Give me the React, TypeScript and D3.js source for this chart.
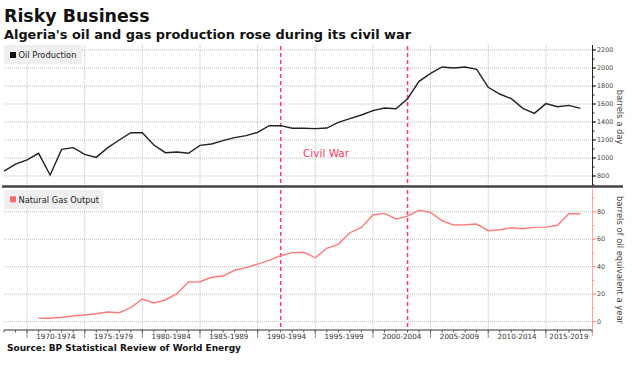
import React from "react";
import * as d3 from "d3";

const oilYears = d3.range(1967, 2018);
const oilValues = [
  855, 933, 978, 1052, 811, 1096, 1115, 1041, 1007, 1115,
  1200, 1281, 1281, 1144, 1059, 1067, 1052, 1141, 1156, 1193,
  1226, 1248, 1285, 1359, 1359, 1330, 1330, 1326, 1333, 1396,
  1437, 1478, 1526, 1556, 1548, 1659, 1852, 1941, 2011, 2000,
  2011, 1985, 1785, 1711, 1659, 1552, 1496, 1604, 1570, 1585,
  1552,
];
const gasYears = d3.range(1970, 2018);
const gasValues = [
  2.5, 2.5, 3.2, 4.1, 4.9, 5.8, 7.0, 6.5, 10.2, 16.5,
  13.6, 15.8, 20.4, 28.9, 29.1, 32.3, 33.2, 37.4, 39.3, 41.9,
  44.6, 48.0, 50.2, 50.5, 46.5, 53.4, 56.3, 64.7, 68.6, 77.6,
  78.8, 74.7, 76.8, 81.0, 79.5, 73.4, 70.3, 70.5, 71.0, 66.2,
  66.9, 68.3, 67.6, 68.6, 68.8, 70.1, 78.5, 78.5,
];
const oilTicks = [800, 1000, 1200, 1400, 1600, 1800, 2000, 2200];
const gasTicks = [0, 20, 40, 60, 80];
const bandStarts = [1970, 1975, 1980, 1985, 1990, 1995, 2000, 2005, 2010, 2015];
const warYears = [1992, 2003];

const W = 638;
const H = 366;

export default function App() {
  const x = d3.scaleLinear().domain([1968, 2019]).range([4, 592]);
  const yOil = d3.scaleLinear().domain([800, 2200]).range([176, 50]);
  const yGas = d3.scaleLinear().domain([0, 80]).range([321.7, 211.7]);

  const top = { y0: 45, y1: 186 };
  const bot = { y0: 188.5, y1: 330 };

  const oilLine = d3
    .line<number>()
    .x((_, i) => x(oilYears[i] + 1))
    .y((d) => yOil(d));
  const gasLine = d3
    .line<number>()
    .x((_, i) => x(gasYears[i] + 1))
    .y((d) => yGas(d));

  const font = "DejaVu Sans, Verdana, sans-serif";
  const grid = "#bdbdbd";
  const warColor = "#ff3a62";

  const oilMinor = d3.range(700, 2201, 100);
  const gasMinor = d3.range(-0, 91, 10);
  const yearTicks = d3.range(1968, 2020);

  return (
    <svg
      width={W}
      height={H}
      style={{ position: "absolute", left: 0, top: 0, background: "#fff" }}
      fontFamily={font}
    >
      <text x={4} y={22} fontSize={17.4} fontWeight="bold" fill="#111">
        Risky Business
      </text>
      <text x={4} y={38.5} fontSize={12.9} fontWeight="bold" fill="#111">
        Algeria's oil and gas production rose during its civil war
      </text>

      {/* horizontal gridlines */}
      {oilTicks.map((v) => (
        <line
          key={"og" + v}
          x1={4}
          x2={592}
          y1={yOil(v)}
          y2={yOil(v)}
          stroke={grid}
          strokeDasharray="1,1"
        />
      ))}
      {gasTicks.map((v) => (
        <line
          key={"gg" + v}
          x1={4}
          x2={592}
          y1={yGas(v)}
          y2={yGas(v)}
          stroke={grid}
          strokeDasharray="1,1"
        />
      ))}
      {/* vertical gridlines */}
      {bandStarts.map((t) => (
        <g key={"vg" + t}>
          <line
            x1={x(t)}
            x2={x(t)}
            y1={top.y0}
            y2={top.y1}
            stroke={grid}
            strokeDasharray="1,1"
          />
          <line
            x1={x(t)}
            x2={x(t)}
            y1={bot.y0}
            y2={bot.y1}
            stroke={grid}
            strokeDasharray="1,1"
          />
          <line x1={x(t)} x2={x(t)} y1={bot.y1} y2={338} stroke="#888" />
        </g>
      ))}

      {/* legends */}
      <rect x={4} y={45} width={78} height={19} fill="#efefef" />
      <rect x={10} y={52} width={6} height={6} fill="#111" />
      <text x={18.5} y={58.3} fontSize={8.3} fill="#222">
        Oil Production
      </text>
      <rect x={4} y={190} width={99} height={19} fill="#efefef" />
      <rect x={10} y={196.3} width={6} height={6} fill="#ff6a6a" />
      <text x={18.5} y={202.6} fontSize={8.3} fill="#222">
        Natural Gas Output
      </text>

      {/* war lines */}
      {warYears.map((t) => (
        <g key={"w" + t}>
          <line
            x1={x(t)}
            x2={x(t)}
            y1={46}
            y2={184}
            stroke={warColor}
            strokeWidth={1.5}
            strokeDasharray="4,3"
          />
          <line
            x1={x(t)}
            x2={x(t)}
            y1={190}
            y2={328}
            stroke={warColor}
            strokeWidth={1.5}
            strokeDasharray="4,3"
          />
        </g>
      ))}
      <text x={303} y={157} fontSize={10.5} fill={warColor}>
        Civil War
      </text>

      {/* data lines */}
      <path d={oilLine(oilValues) || ""} fill="none" stroke="#222" strokeWidth={1.4} />
      <path d={gasLine(gasValues) || ""} fill="none" stroke="#ff7b7b" strokeWidth={1.4} />

      {/* separator */}
      <line x1={2} x2={623} y1={186.5} y2={186.5} stroke="#444" strokeWidth={2.6} />

      {/* right axis top */}
      <line x1={592.5} x2={592.5} y1={45} y2={185} stroke="#222" />
      {oilMinor.map((v) => (
        <line key={"om" + v} x1={592.5} x2={594.5} y1={yOil(v)} y2={yOil(v)} stroke="#222" />
      ))}
      {oilTicks.map((v) => (
        <g key={"ot" + v}>
          <line x1={592.5} x2={596} y1={yOil(v)} y2={yOil(v)} stroke="#222" />
          <text x={597} y={yOil(v)} dy="0.35em" fontSize={6.4} fill="#444">
            {v}
          </text>
        </g>
      ))}
      <text
        transform={`translate(620,117) rotate(90)`}
        textAnchor="middle"
        dominantBaseline="central"
        fontSize={8.4}
        fill="#444"
      >
        barrels a day
      </text>

      {/* right axis bottom */}
      <line x1={592.5} x2={592.5} y1={188.5} y2={336} stroke="#ffa3a3" />
      {gasMinor.map((v) => (
        <line key={"gm" + v} x1={592.5} x2={594.5} y1={yGas(v)} y2={yGas(v)} stroke="#ff9a9a" />
      ))}
      {gasTicks.map((v) => (
        <g key={"gt" + v}>
          <line x1={592.5} x2={596} y1={yGas(v)} y2={yGas(v)} stroke="#ff8a8a" />
          <text x={597} y={yGas(v)} dy="0.35em" fontSize={6.4} fill="#444">
            {v}
          </text>
        </g>
      ))}
      <text
        transform={`translate(620,260) rotate(90)`}
        textAnchor="middle"
        dominantBaseline="central"
        fontSize={8.4}
        fill="#444"
      >
        barrels of oil equivalent a year
      </text>

      {/* bottom axis */}
      <line x1={4} x2={592} y1={330} y2={330} stroke="#333" />
      {yearTicks.map((t) => (
        <line key={"yt" + t} x1={x(t)} x2={x(t)} y1={330} y2={332.5} stroke="#555" />
      ))}
      {bandStarts.map((t) => {
        const end = Math.min(t + 5, 2019);
        return (
          <text
            key={"bl" + t}
            x={x((t + end) / 2)}
            y={338.5}
            textAnchor="middle"
            fontSize={7.2}
            fill="#333"
          >
            {`${t}-${t + 4}`}
          </text>
        );
      })}

      <text x={7} y={350.5} fontSize={9} fontWeight="bold" fill="#111">
        Source: BP Statistical Review of World Energy
      </text>
    </svg>
  );
}
